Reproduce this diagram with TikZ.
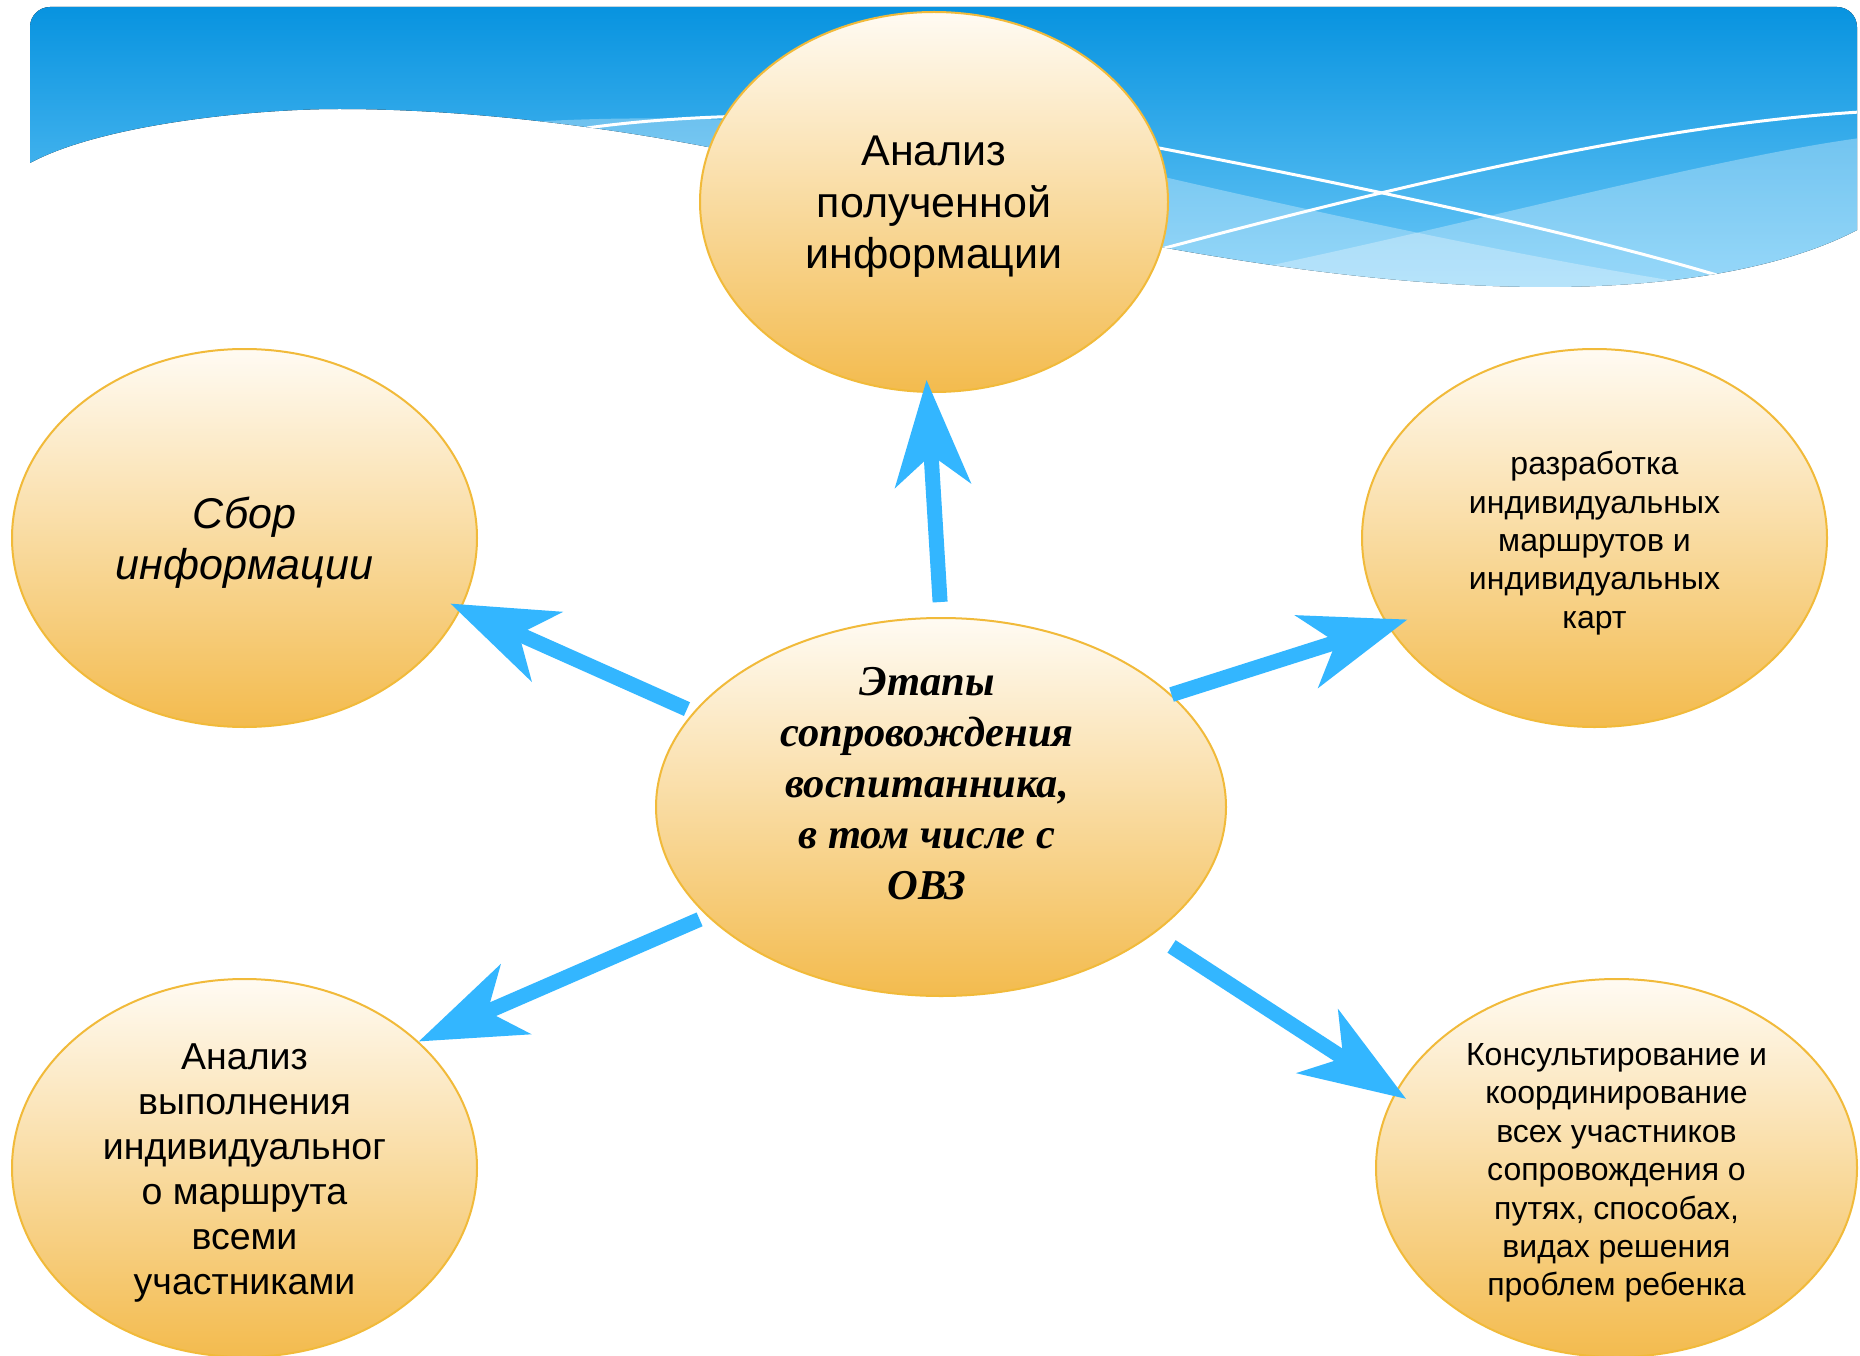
\documentclass[tikz,border=0pt]{standalone}
\usepackage{fontspec}
\setmainfont{Liberation Sans}
\newfontfamily\serifbi{Liberation Serif}
\usetikzlibrary{arrows.meta,shapes.geometric}
\definecolor{bannerTop}{RGB}{5,146,223}
\definecolor{bannerBot}{RGB}{112,202,248}
\definecolor{ellTop}{RGB}{255,251,243}
\definecolor{ellBot}{RGB}{243,187,78}
\definecolor{ellLine}{RGB}{241,186,58}
\definecolor{arrowBlue}{RGB}{51,182,255}
\tikzset{
  bubble/.style={ellipse, draw=ellLine, line width=2pt, top color=ellTop, bottom color=ellBot,
                 inner sep=0pt, minimum height=378pt},
  btext/.style={align=center, text=black, yshift=-5pt},
  link/.style={draw=arrowBlue, line width=15pt, -{Stealth[length=105pt,width=75pt,inset=30pt]}},
  band/.style={fill=white, fill opacity=0.3},
  wline/.style={draw=white, line width=3pt},
}
\begin{document}
\begin{tikzpicture}[x=1pt,y=-1pt]
\useasboundingbox (0,0) rectangle (1860,1356);
\fill[white] (0,0) rectangle (1860,1356);
% banner
\begin{scope}
  \clip (30,163) -- (30,27) .. controls (30,16) and (39,7) .. (50,7) -- (1837,7)
        .. controls (1848,7) and (1857,16) .. (1857,27) -- (1857,230)
        .. controls (1800,260) and (1700,287) .. (1546,287)
        .. controls (1250,287) and (900,190) .. (708,147)
        .. controls (620,130) and (480,109) .. (339,109)
        .. controls (250,109) and (100,125) .. (30,163) -- cycle;
  \fill[top color=bannerTop, bottom color=bannerBot] (0,0) rectangle (1860,300);
  \path[band] (500,124) .. controls (650,112) and (900,115) .. (1164,177)
        .. controls (1350,220) and (1550,262) .. (1700,285) -- (1700,320) -- (500,320) -- cycle;
  \path[band] (1200,280) .. controls (1450,230) and (1700,160) .. (1860,138)
        -- (1860,320) -- (1200,320) -- cycle;
  \path[wline] (587,128) .. controls (750,105) and (1000,115) .. (1159,148)
        .. controls (1300,175) and (1550,225) .. (1720,276);
  \path[wline] (1150,252) .. controls (1400,185) and (1650,125) .. (1860,112);
\end{scope}
% bubbles
\node[bubble, minimum width=468pt, minimum height=380pt,
  label={[name=topText, btext, font=\fontsize{43}{51.6}\selectfont]center:{Анализ\\полученной\\информации}}]
  (top) at (934,202) {};
\node[bubble, minimum width=465pt,
  label={[name=leftText, btext, font=\fontsize{43}{51}\selectfont\itshape]center:{Сбор\\информации}}]
  (left) at (244.5,538) {};
\node[bubble, minimum width=465pt,
  label={[name=rightText, btext, font=\fontsize{32}{38.3}\selectfont]center:{разработка\\индивидуальных\\маршрутов и\\индивидуальных\\карт}}]
  (right) at (1594.5,538) {};
\node[bubble, minimum width=570pt,
  label={[name=cenText, align=center, text=black, xshift=-14pt, yshift=23.5pt, font=\serifbi\bfseries\itshape\fontsize{42.5}{51}\selectfont]center:{Этапы\\сопровождения\\воспитанника,\\в том числе с\\ОВЗ}}]
  (cen) at (941,807) {};
\node[bubble, minimum width=465pt,
  label={[name=blText, btext, font=\fontsize{37.5}{45}\selectfont]center:{Анализ\\выполнения\\индивидуальног\\о маршрута\\всеми\\участниками}}]
  (bl) at (244.5,1168) {};
\node[bubble, minimum width=481pt,
  label={[name=brText, btext, font=\fontsize{32}{38.4}\selectfont]center:{Консультирование и\\координирование\\всех участников\\сопровождения о\\путях, способах,\\видах решения\\проблем ребенка}}]
  (br) at (1616.5,1168) {};
% arrows
\draw[link, shorten <=15pt, shorten >=-13pt] (cen.90) -- (top.-92);
\draw[link, shorten <=7pt, shorten >=-12pt] (cen.159) -- (left.-18);
\draw[link, shorten >=-21pt] (cen.26.8) -- (right.203.6);
\draw[link, shorten <=8pt] (cen.205.6) -- (bl.36.8);
\draw[link, shorten <=22pt, shorten >=-13pt] (cen.-31.8) -- (br.161.8);
\end{tikzpicture}
\end{document}
